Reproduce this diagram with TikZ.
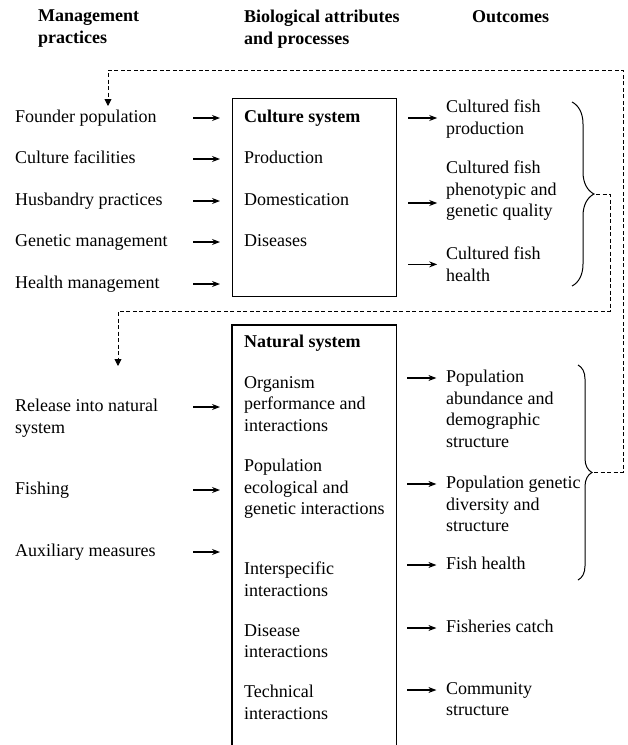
\documentclass[tikz,border=0pt]{standalone}
\usepackage{fontspec}
\setmainfont{Liberation Serif}
\usetikzlibrary{arrows.meta,decorations.pathreplacing}
\tikzset{>=Stealth}

\tikzset{
    txt/.style = {anchor=north west, inner sep=0pt, align=left},
    hdr/.style = {txt, font=\bfseries\fontsize{18}{21.5}\selectfont},
    arr/.style = {->, >={Stealth[length=8pt, width=6pt]}, line width=1.1pt},
    fbline/.style = {-{Triangle[length=7pt, width=7pt]}, line width=0.9pt, dash pattern=on 4pt off 2.5pt},
    bracestyle/.style = {decorate, decoration={brace, amplitude=#1}, line width=1pt},
    sysbox/.style = {minimum width=164pt, anchor=north west, inner sep=0pt}
}

\begin{document}
\begin{tikzpicture}[x=1pt, y=-1pt, font=\fontsize{18}{21.5}\selectfont]
    \useasboundingbox (0,0) rectangle (628,745);

    % column headers
    \node [hdr] (hmgmt) at (38,10) {Management\\practices};
    \node [hdr] (hbio) at (244,10) {Biological attributes\\and processes};
    \node [hdr] (hout) at (472,10) {Outcomes};

    % management practices
    \node [txt] (founder) at (15,110) {Founder population};
    \node [txt] (facil) at (15,151) {Culture facilities};
    \node [txt] (husb) at (15,193) {Husbandry practices};
    \node [txt] (genet) at (15,234) {Genetic management};
    \node [txt] (health) at (15,276) {Health management};
    \node [txt] (release) at (15,399) {Release into natural\\system};
    \node [txt] (fishing) at (15,482) {Fishing};
    \node [txt] (aux) at (15,544) {Auxiliary measures};

    % culture system
    \node [sysbox, draw, line width=1.2pt, minimum height=198pt] (culture) at (232,98) {};
    \node [txt, font=\bfseries\fontsize{18}{21.5}\selectfont] (csys) at (244,110) {Culture system};
    \node [txt] (prod) at (244,151) {Production};
    \node [txt] (dom) at (244,193) {Domestication};
    \node [txt] (dis) at (244,234) {Diseases};

    % natural system (box runs off the bottom)
    \node [sysbox, minimum height=420pt] (natural) at (232,325) {};
    \draw [line width=1.2pt] (natural.south west) -- (natural.north west) -- (natural.north east) -- (natural.south east);
    \node [txt, font=\bfseries\fontsize{18}{21.5}\selectfont] (nsys) at (244,335) {Natural system};
    \node [txt] (org) at (244,376) {Organism\\performance and\\interactions};
    \node [txt] (popint) at (244,459) {Population\\ecological and\\genetic interactions};
    \node [txt] (inter) at (244,562) {Interspecific\\interactions};
    \node [txt] (dise) at (244,624) {Disease\\interactions};
    \node [txt] (tech) at (244,685) {Technical\\interactions};

    % outcomes
    \node [txt] (cprod) at (446,100) {Cultured fish\\production};
    \node [txt] (cqual) at (446,161) {Cultured fish\\phenotypic and\\genetic quality};
    \node [txt] (chealth) at (446,247) {Cultured fish\\health};
    \node [txt] (pabund) at (446,370) {Population\\abundance and\\demographic\\structure};
    \node [txt] (pgen) at (446,476) {Population genetic\\diversity and\\structure};
    \node [txt] (fhealth) at (446,557) {Fish health};
    \node [txt] (catch) at (446,620) {Fisheries catch};
    \node [txt] (comm) at (446,682) {Community\\structure};

    % arrows into the systems
    \foreach \n in {founder,facil,husb,genet,health,release,fishing,aux}
        \draw [arr] ([shift={(-39pt,-8pt)}]culture.west |- \n.north) -- ++(27,0);

    % arrows out to the outcomes
    \draw [arr] ([shift={(11pt,-8pt)}]culture.east |- csys.north) -- ++(29,0);
    \draw [arr] ([shift={(11pt,-10pt)}]culture.east |- dom.north) -- ++(29,0);
    \draw [arr] ([xshift=11pt]culture.east |- chealth.west) -- ++(29,0);
    \foreach \n in {pabund,pgen,fhealth,catch,comm}
        \draw [arr] ([shift={(11pt,-8pt)}]natural.east |- \n.north) -- ++(29,0);

    % braces
    \draw [bracestyle=22pt] (572,102) -- (572,286);
    \draw [bracestyle=14pt] (578,365) -- (578,580);
    \coordinate (ctip) at (596,194);
    \coordinate (ntip) at (594,472);

    % feedback loops
    \coordinate (rout) at (623,70);
    \coordinate (lout) at (108,70);
    \draw [fbline] (ntip) -| (rout) -- (lout) -- ([yshift=4pt]lout |- founder.north);
    \coordinate (rin) at (610,311);
    \coordinate (lin) at (118,311);
    \draw [fbline] (ctip) -| (rin) -- (lin) -- ++(0,55);
\end{tikzpicture}
\end{document}
